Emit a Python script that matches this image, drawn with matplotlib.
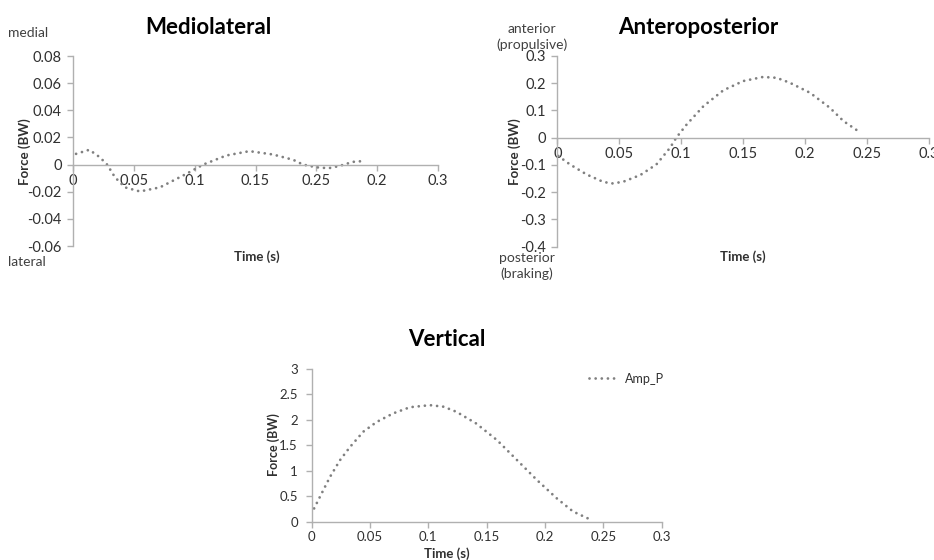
import matplotlib.pyplot as plt

plt.rcParams['font.family'] = ['Lato', 'DejaVu Sans']

# Mediolateral force (BW) over time (s)
ml_time = [0.0025, 0.0134, 0.022, 0.028, 0.0345, 0.0427, 0.055, 0.0714, 0.093,
           0.107, 0.126, 0.145, 0.1645, 0.181, 0.189, 0.2, 0.21, 0.219, 0.23, 0.24]
ml_force = [0.0079, 0.0109, 0.0054, 0.0, -0.0094, -0.0168, -0.0198, -0.0168, -0.0069,
            0.0, 0.0067, 0.0099, 0.0074, 0.0035, 0.0, -0.002, -0.0027, -0.001, 0.002, 0.0027]
ml_xticks = [0, 0.05, 0.1, 0.15, 0.2, 0.25, 0.3]
ml_xlabels = ['0', '0.05', '0.1', '0.15', '0.25', '0.2', '0.3']
ml_yticks = [-0.06, -0.04, -0.02, 0, 0.02, 0.04, 0.06, 0.08]
ml_ylabels = ['-0.06', '-0.04', '-0.02', '0', '0.02', '0.04', '0.06', '0.08']

# Anteroposterior force (BW)
ap_time = [0.0008, 0.0102, 0.0237, 0.037, 0.044, 0.053, 0.067, 0.08, 0.091, 0.096, 0.1045,
           0.118, 0.134, 0.15, 0.166, 0.177, 0.1876, 0.204, 0.22, 0.231, 0.242]
ap_force = [-0.067, -0.098, -0.135, -0.162, -0.168, -0.162, -0.137, -0.098, -0.037, 0.0, 0.049,
            0.116, 0.174, 0.208, 0.223, 0.22, 0.202, 0.165, 0.11, 0.061, 0.027]
ap_xticks = [0, 0.05, 0.1, 0.15, 0.2, 0.25, 0.3]
ap_xlabels = ['0', '0.05', '0.1', '0.15', '0.2', '0.25', '0.3']
ap_yticks = [-0.4, -0.3, -0.2, -0.1, 0, 0.1, 0.2, 0.3]
ap_ylabels = ['-0.4', '-0.3', '-0.2', '-0.1', '0', '0.1', '0.2', '0.3']

# Vertical force (BW)
v_time = [0.0, 0.0014, 0.0071, 0.0157, 0.0243, 0.0329, 0.0443, 0.0557, 0.07, 0.0843, 0.1014,
          0.113, 0.124, 0.141, 0.159, 0.176, 0.193, 0.21, 0.224, 0.24]
v_force = [0.15, 0.23, 0.49, 0.88, 1.21, 1.47, 1.77, 1.96, 2.13, 2.25, 2.29,
           2.26, 2.16, 1.93, 1.6, 1.21, 0.82, 0.46, 0.2, 0.03]
v_xticks = [0, 0.05, 0.1, 0.15, 0.2, 0.25, 0.3]
v_xlabels = ['0', '0.05', '0.1', '0.15', '0.2', '0.25', '0.3']
v_yticks = [0, 0.5, 1, 1.5, 2, 2.5, 3]
v_ylabels = ['0', '0.5', '1', '1.5', '2', '2.5', '3']

AXIS_GREY = '#b0b0b0'
TEXT = '#303030'
DOT_STYLE = dict(color='#808080', linewidth=2.0, linestyle=(0, (0.01, 2.2)),
                 dash_capstyle='round')


def style_axis(ax, xticks, xlabels, yticks, ylabels, x_at_zero=True, fs=10.5):
    for side in ('top', 'right'):
        ax.spines[side].set_visible(False)
    for side in ('left', 'bottom'):
        ax.spines[side].set_color(AXIS_GREY)
        ax.spines[side].set_linewidth(1.0)
    if x_at_zero:
        ax.spines['bottom'].set_position(('data', 0))
    ax.set_xlim(0, 0.3)
    ax.set_ylim(yticks[0], yticks[-1])
    ax.set_xticks(xticks)
    ax.set_xticklabels(xlabels)
    ax.set_yticks(yticks)
    ax.set_yticklabels(ylabels)
    ax.tick_params(axis='both', colors=AXIS_GREY, labelcolor=TEXT, labelsize=fs,
                   length=4, width=1.0)
    ax.tick_params(axis='x', pad=3)
    ax.tick_params(axis='y', pad=4)
    ax.patch.set_alpha(0)


fig = plt.figure(figsize=(9.34, 5.6), dpi=100)

# Mediolateral panel
ax1 = fig.add_axes([0.0782, 0.5607, 0.3908, 0.3393])
ax1.plot(ml_time, ml_force, **DOT_STYLE)
style_axis(ax1, ml_xticks, ml_xlabels, ml_yticks, ml_ylabels)
fig.text(208 / 934, 1 - 27 / 560, 'Mediolateral', ha='center', va='center',
         fontsize=16, fontweight='bold', color='black')
fig.text(8 / 934, 1 - 33 / 560, 'medial', ha='left', va='center', fontsize=10, color='#404040')
fig.text(8 / 934, 1 - 262 / 560, 'lateral', ha='left', va='center', fontsize=10, color='#404040')
fig.text(25 / 934, 1 - 152 / 560, 'Force (BW)', rotation=90, ha='center', va='center',
         fontsize=9.5, fontweight='bold', color=TEXT)
fig.text(257 / 934, 1 - 257 / 560, 'Time (s)', ha='center', va='center',
         fontsize=9.5, fontweight='bold', color=TEXT)

# Anteroposterior panel
ax2 = fig.add_axes([0.5967, 0.5595, 0.3979, 0.3405])
ax2.plot(ap_time, ap_force, **DOT_STYLE)
style_axis(ax2, ap_xticks, ap_xlabels, ap_yticks, ap_ylabels)
fig.text(698 / 934, 1 - 27 / 560, 'Anteroposterior', ha='center', va='center',
         fontsize=16, fontweight='bold', color='black')
fig.text(532 / 934, 1 - 37 / 560, 'anterior\n(propulsive)', ha='center', va='center',
         fontsize=10, color='#404040', linespacing=1.3)
fig.text(527 / 934, 1 - 266 / 560, 'posterior\n(braking)', ha='center', va='center',
         fontsize=10, color='#404040', linespacing=1.3)
fig.text(515 / 934, 1 - 152 / 560, 'Force (BW)', rotation=90, ha='center', va='center',
         fontsize=9.5, fontweight='bold', color=TEXT)
fig.text(743 / 934, 1 - 257 / 560, 'Time (s)', ha='center', va='center',
         fontsize=9.5, fontweight='bold', color=TEXT)

# Vertical panel
ax3 = fig.add_axes([0.3337, 0.0684, 0.3748, 0.2726])
ax3.plot(v_time, v_force, label='Amp_P', **DOT_STYLE)
style_axis(ax3, v_xticks, v_xlabels, v_yticks, v_ylabels, x_at_zero=False, fs=9.5)
ax3.tick_params(axis='y', pad=6)
fig.text(447 / 934, 1 - 340 / 560, 'Vertical', ha='center', va='center',
         fontsize=16, fontweight='bold', color='black')
fig.text(274 / 934, 1 - 445 / 560, 'Force (BW)', rotation=90, ha='center', va='center',
         fontsize=9, fontweight='bold', color=TEXT)
fig.text(447 / 934, 1 - 554 / 560, 'Time (s)', ha='center', va='center',
         fontsize=9.5, fontweight='bold', color=TEXT)
leg = ax3.legend(loc='upper right', bbox_to_anchor=(1.04, 1.05), frameon=False,
                 fontsize=9, handlelength=2.4, handletextpad=0.5)
for t in leg.get_texts():
    t.set_color(TEXT)

fig.savefig('out.png', dpi=100)
